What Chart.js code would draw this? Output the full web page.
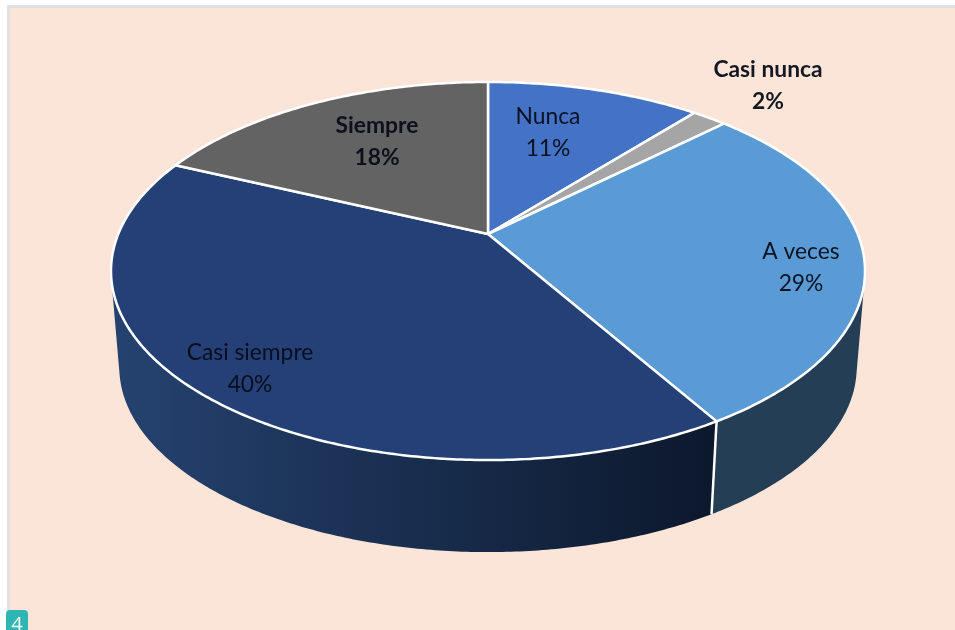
<!DOCTYPE html>
<html>
<head>
<meta charset="utf-8">
<style>
html,body{margin:0;padding:0;width:955px;height:630px;overflow:hidden;background:#fff;}
#sheet{position:absolute;left:7px;top:5px;width:948px;height:625px;background:#FAE5D8;border-left:3px solid #E1E1E1;border-top:3px solid #E1E1E1;box-sizing:border-box;}
#wrap{position:absolute;left:0;top:0;width:955px;height:630px;}
#c{filter:blur(0.55px);}
#badge{position:absolute;left:6px;top:610px;width:22px;height:20px;background:#2FB5B3;border-radius:4px 4px 0 0;color:#fff;font:20px/28px "Open Sans",sans-serif;text-align:center;overflow:hidden;}
</style>
<script src="https://cdn.jsdelivr.net/npm/chart.js@4"></script>
</head>
<body>
<div id="sheet"></div>
<div id="wrap"><canvas id="c" width="955" height="630"></canvas></div>
<div id="badge">4</div>
<script>
const categories = ['Nunca', 'Casi nunca', 'A veces', 'Casi siempre', 'Siempre'];
const values = [11.1, 1.8, 28.5, 40.3, 18.3];
const percentLabels = ['11%', '2%', '29%', '40%', '18%'];
const faceColors = ['#4472C4', '#A5A5A5', '#5B9BD5', '#244077', '#636363'];
const boldLabels = [false, true, false, false, true];

// Projection of the pie disc onto the tilted view
const view = {apexX: 488, apexY: 234, a: 369.7, b: 181.8, k: 0.1958, depth: 97, shrink: 0.978};
const labelSpots = [[548,117],[768,70],[801,252],[250,353],[377,126]];

function rim(theta, base) {
  const u = Math.sin(theta), v = -Math.cos(theta);
  const d = 1 - view.k * v;
  const s = base ? view.shrink : 1;
  return [view.apexX + s * view.a * u / d,
          view.apexY + s * view.b * v / d + (base ? view.depth : 0)];
}
function traceRim(ctx, t0, t1) {
  const n = Math.max(2, Math.ceil((t1 - t0) / 0.01));
  for (let i = 0; i <= n; i++) {
    const p = rim(t0 + (t1 - t0) * i / n, false);
    ctx.lineTo(p[0], p[1]);
  }
}
const tiltedPie = {
  id: 'tiltedPie',
  beforeDatasetDraw(chart) {
    const ctx = chart.ctx;
    const arcs = chart.getDatasetMeta(0).data;
    const span = arcs.map(a => [a.startAngle + Math.PI / 2, a.endAngle + Math.PI / 2]);
    ctx.save();
    // wall: narrow quads of one winding in a single path, so the silhouette stays closed at the tangents
    const grad = ctx.createLinearGradient(120, 0, 715, 0);
    grad.addColorStop(0, '#25426F');
    grad.addColorStop(1, '#0C182C');
    const walls = ['#1F3357', '#5a5a5a', '#243F55', grad, '#3c3c3c'];
    span.forEach((s, i) => {
      const n = Math.max(2, Math.ceil((s[1] - s[0]) / 0.01));
      ctx.beginPath();
      for (let j = 0; j < n; j++) {
        const t0 = s[0] + (s[1] - s[0]) * j / n, t1 = s[0] + (s[1] - s[0]) * (j + 1) / n;
        let q = [rim(t0, false), rim(t1, false), rim(t1, true), rim(t0, true)];
        let area = 0;
        q.forEach((p, k) => { const r = q[(k + 1) % 4]; area += p[0] * r[1] - r[0] * p[1]; });
        if (area < 0) q = q.reverse();
        ctx.moveTo(q[0][0], q[0][1]);
        ctx.lineTo(q[1][0], q[1][1]);
        ctx.lineTo(q[2][0], q[2][1]);
        ctx.lineTo(q[3][0], q[3][1]);
        ctx.closePath();
      }
      ctx.fillStyle = walls[i];
      ctx.fill('nonzero');
    });
    // seam
    const sa = rim(span[2][1], false), sb = rim(span[2][1], true);
    ctx.strokeStyle = '#fff'; ctx.lineWidth = 2.5;
    ctx.beginPath(); ctx.moveTo(sa[0], sa[1]); ctx.lineTo(sb[0], sb[1]); ctx.stroke();
    // top face
    ctx.lineJoin = 'round';
    span.forEach((s, i) => {
      ctx.beginPath();
      ctx.moveTo(view.apexX, view.apexY);
      traceRim(ctx, s[0], s[1]);
      ctx.closePath();
      ctx.fillStyle = faceColors[i];
      ctx.fill();
      ctx.strokeStyle = '#fff';
      ctx.lineWidth = 2.5;
      ctx.stroke();
    });
    ctx.restore();
    return false;
  },
  afterDatasetsDraw(chart) {
    const ctx = chart.ctx;
    ctx.save();
    ctx.textAlign = 'center';
    ctx.textBaseline = 'middle';
    ctx.fillStyle = 'rgba(8,12,24,0.95)';
    categories.forEach((name, i) => {
      const p = labelSpots[i];
      ctx.font = (boldLabels[i] ? 'bold ' : '') + '22.8px Lato, sans-serif';
      ctx.fillText(name, p[0], p[1]);
      ctx.fillText(percentLabels[i], p[0], p[1] + 32);
    });
    ctx.restore();
  }
};
new Chart(document.getElementById('c'), {
  type: 'pie',
  data: {labels: categories, datasets: [{data: values, backgroundColor: faceColors, borderColor: '#fff', borderWidth: 2}]},
  options: {
    responsive: false,
    animation: false,
    events: [],
    plugins: {legend: {display: false}, tooltip: {enabled: false}}
  },
  plugins: [tiltedPie]
});
</script>
</body>
</html>
